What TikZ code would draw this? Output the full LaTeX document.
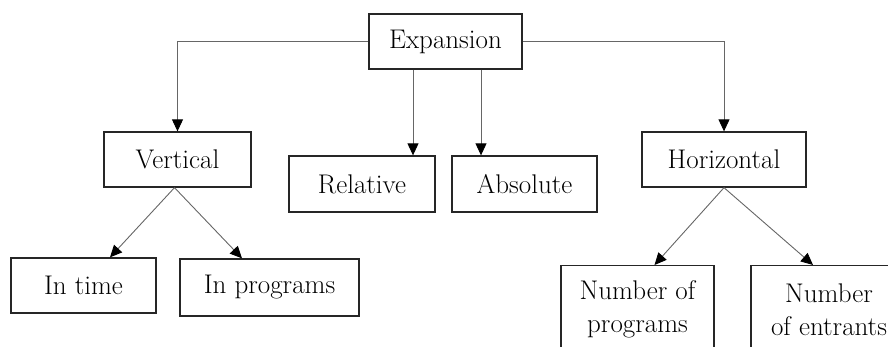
\documentclass[tikz,border=0pt]{standalone}
\usepackage{fontspec}
\setmainfont{Latin Modern Roman}
\usetikzlibrary{arrows.meta}
\begin{document}
\begin{tikzpicture}[x=1pt,y=-1pt,
  box/.style={draw=black!85,line width=1.3pt,inner sep=0pt,font=\fontsize{27}{33}\selectfont,align=center},
  conn/.style={draw=black!60,line width=0.9pt},
  arr/.style={conn,-{Triangle[length=12pt,width=11pt,fill=black,color=black]}}]
\useasboundingbox (0,0) rectangle (888,347);
\clip (0,0) rectangle (888,347);
\node[box,minimum width=153,minimum height=55] (exp) at (445.5,41.5) {Expansion};
\node[box,minimum width=147,minimum height=55] (vert) at (177.5,159.5) {Vertical};
\node[box,minimum width=146,minimum height=56] (rel) at (362,184) {Relative};
\node[box,minimum width=145,minimum height=56] (abs) at (524.5,184) {Absolute};
\node[box,minimum width=164,minimum height=55] (hor) at (724,159.5) {Horizontal};
\node[box,minimum width=145,minimum height=55] (time) at (83.5,285.5) {In time};
\node[box,minimum width=179,minimum height=57] (prog) at (269.5,287.5) {In programs};
\node[box,minimum width=153,minimum height=88,anchor=north] (nprog) at (637.5,265) {Number of\\programs};
\node[box,minimum width=156,minimum height=88,anchor=north] (nent) at (829,265) {Number\\of entrants};
\draw[arr] (exp.west) -| (vert.north);
\draw[arr] (exp.east) -| (hor.north);
\draw[arr] ([xshift=-32.5]exp.south) -- ([xshift=-32.5]exp.south |- rel.north);
\draw[arr] ([xshift=35.5]exp.south) -- ([xshift=35.5]exp.south |- abs.north);
\draw[arr] ([xshift=-3]vert.south) -- ([xshift=26.5]time.north);
\draw[arr] ([xshift=-3]vert.south) -- ([xshift=-27.5]prog.north);
\draw[arr] (hor.south) -- ([xshift=17]nprog.north);
\draw[arr] (hor.south) -- ([xshift=-16]nent.north);
\end{tikzpicture}
\end{document}
